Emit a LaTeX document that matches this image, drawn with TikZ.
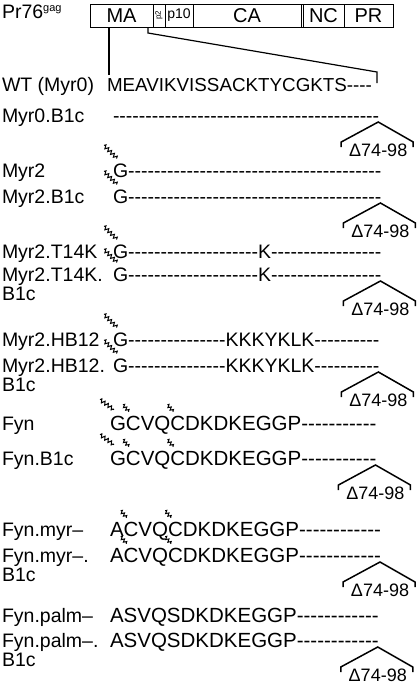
\documentclass[tikz,border=0pt]{standalone}
\usepackage{fontspec}
\newfontfamily\af{Liberation Sans}
\usetikzlibrary{calc,decorations.pathmorphing}
\ExplSyntaxOn
\cs_new:Npn \myhy #1 { \prg_replicate:nn {#1} { -\kern0pt } }
\ExplSyntaxOff
\newcommand\brkt[2]{%
  \coordinate (#2p) at ([xshift=-1pt]#1.base east);
  \draw[brk] ($(#2p)+(-37,25)$) -- ($(#2p)+(-37,20)$) -- (#2p) -- ($(#2p)+(35,20)$) -- ($(#2p)+(35,25)$);
  \node[dl] (#2d) at ($(#2p)+(0,28)$) {Δ74-98};}
\begin{document}
\begin{tikzpicture}[x=1pt,y=-1pt,
  every node/.style={inner sep=0pt,outer sep=0pt},
  t/.style={anchor=base west,font=\af\fontsize{19.5}{20}\selectfont},
  tw/.style={anchor=base west,font=\af\fontsize{18.8}{20}\selectfont},
  tf/.style={anchor=base west,font=\af\fontsize{20.5}{21}\selectfont},
  dl/.style={anchor=center,font=\af\fontsize{18}{18}\selectfont},
  seg/.style={draw,line width=0.9pt,anchor=north west,minimum height=23pt,font=\af\fontsize{20}{20}\selectfont},
  ln/.style={line width=1.2pt},
  brk/.style={line width=1.5pt},
  wig/.style={line width=1pt,decorate,decoration={zigzag,segment length=4pt,amplitude=1.8pt}},
  swig/.style={line width=1pt,decorate,decoration={zigzag,segment length=3.4pt,amplitude=1.5pt}}]
\useasboundingbox (0,0) rectangle (418,686);
% precursor bar
\node[t] (pr76) at (2,18) {Pr76\raisebox{7pt}{\fontsize{11}{11}\selectfont gag}};
\node[seg,minimum width=63pt] (ma) at (90,4) {MA};
\node[seg,minimum width=12pt] (p2) at (153,4) {\rotatebox{90}{\fontsize{8}{8}\selectfont p2}};
\node[seg,minimum width=28pt,font=\af\fontsize{14}{14}\selectfont] (p10) at (165,4) {p10};
\node[seg,minimum width=108pt] (ca) at (193,4) {CA};
\node[seg,minimum width=41pt] (nc) at (303,4) {NC};
\node[seg,minimum width=49pt] (pr) at (344,4) {PR};
\draw[line width=0.9pt] (ma.north west) rectangle (pr.south east);
\coordinate (wtl) at (109,75);
\coordinate (wtr) at (377,83);
\draw[ln] (ma.south west -| wtl) -- (wtl);
\draw[ln] ([xshift=-5pt]ma.south east) -- ++(0,6) -- (377,72) -- (wtr);
% WT
\node[t] (lwt) at (2,91) {WT (Myr0)};
\node[tw] (swt) at (107,91) {MEAVIKVISSACKTYCGKTS\myhy{4}};
% Myr0.B1c
\node[t] (l1) at (2,122) {Myr0.B1c};
\node[t] (d1) at (113,122) {\myhy{41}};
\brkt{d1}{b1}
% Myr2
\node[t] (l2) at (2,177) {Myr2};
\node[t] (g2) at (113,177) {G};
\node[t] (d2) at (g2.base east) {\myhy{39}};
\draw[wig] ($(g2.north west)+(-9,-18)$) -- ($(g2.north west)+(4,-5)$);
% Myr2.B1c
\node[t] (l3) at (2,203) {Myr2.B1c};
\node[t] (g3) at (113,203) {G};
\node[t] (d3) at (g3.base east) {\myhy{39}};
\draw[wig] ($(g3.north west)+(-9,-18)$) -- ($(g3.north west)+(4,-5)$);
\brkt{d3}{b3}
% Myr2.T14K
\node[t] (l4) at (2,258) {Myr2.T14K};
\node[t] (g4) at (113,258) {G};
\node[t] (d4a) at (g4.base east) {\myhy{20}};
\node[t] (k4) at (d4a.base east) {K};
\node[t] (d4b) at (k4.base east) {\myhy{17}};
\draw[wig] ($(g4.north west)+(-9,-18)$) -- ($(g4.north west)+(4,-5)$);
% Myr2.T14K.B1c
\node[t] (l5) at (2,281) {Myr2.T14K.};
\node[t] (l5b) at (2,300) {B1c};
\node[t] (g5) at (113,281) {G};
\node[t] (d5a) at (g5.base east) {\myhy{20}};
\node[t] (k5) at (d5a.base east) {K};
\node[t] (d5b) at (k5.base east) {\myhy{17}};
\draw[wig] ($(g5.north west)+(-9,-18)$) -- ($(g5.north west)+(4,-5)$);
\brkt{d5b}{b5}
% Myr2.HB12
\node[t] (l6) at (2,346) {Myr2.HB12};
\node[t] (g6) at (113,346) {G};
\node[t] (d6a) at (g6.base east) {\myhy{15}};
\node[t] (k6) at (d6a.base east) {KKKYKLK};
\node[t] (d6b) at (k6.base east) {\myhy{10}};
\draw[wig] ($(g6.north west)+(-9,-18)$) -- ($(g6.north west)+(4,-5)$);
% Myr2.HB12.B1c
\node[t] (l7) at (2,372) {Myr2.HB12.};
\node[t] (l7b) at (2,391) {B1c};
\node[t] (g7) at (113,372) {G};
\node[t] (d7a) at (g7.base east) {\myhy{15}};
\node[t] (k7) at (d7a.base east) {KKKYKLK};
\node[t] (d7b) at (k7.base east) {\myhy{10}};
\draw[wig] ($(g7.north west)+(-9,-18)$) -- ($(g7.north west)+(4,-5)$);
\brkt{d7b}{b7}
% Fyn
\node[t] (l8) at (2,430) {Fyn};
\node[tf] (f8g) at (110,430) {G};
\node[tf] (f8c) at (f8g.base east) {C};
\node[tf] (f8v) at (f8c.base east) {VQ};
\node[tf] (f8e) at (f8v.base east) {C};
\node[tf] (f8r) at (f8e.base east) {DKDKEGGP};
\node[tf] (d8) at (f8r.base east) {\myhy{11}};
\draw[wig] ($(f8g.north west)+(-10,-16)$) -- ($(f8g.north west)+(4,-6)$);
\draw[swig] ($(f8c.north west)+(-3,-11)$) -- ($(f8c.north west)+(3,-4)$);
\draw[swig] ($(f8e.north west)+(-3,-11)$) -- ($(f8e.north west)+(3,-4)$);
% Fyn.B1c
\node[t] (l9) at (2,465) {Fyn.B1c};
\node[tf] (f9g) at (110,465) {G};
\node[tf] (f9c) at (f9g.base east) {C};
\node[tf] (f9v) at (f9c.base east) {VQ};
\node[tf] (f9e) at (f9v.base east) {C};
\node[tf] (f9r) at (f9e.base east) {DKDKEGGP};
\node[tf] (d9) at (f9r.base east) {\myhy{11}};
\draw[wig] ($(f9g.north west)+(-10,-16)$) -- ($(f9g.north west)+(4,-6)$);
\draw[swig] ($(f9c.north west)+(-3,-11)$) -- ($(f9c.north west)+(3,-4)$);
\draw[swig] ($(f9e.north west)+(-3,-11)$) -- ($(f9e.north west)+(3,-4)$);
\brkt{d9}{b9}
% Fyn.myr-
\node[t] (l10) at (2,536) {Fyn.myr–};
\node[tf] (f10a) at (110,536) {A};
\node[tf] (f10c) at (f10a.base east) {C};
\node[tf] (f10v) at (f10c.base east) {VQ};
\node[tf] (f10e) at (f10v.base east) {C};
\node[tf] (f10r) at (f10e.base east) {DKDKEGGP};
\node[tf] (d10) at (f10r.base east) {\myhy{12}};
\draw[swig] ($(f10c.north west)+(-3,-11)$) -- ($(f10c.north west)+(3,-4)$);
\draw[swig] ($(f10e.north west)+(-3,-11)$) -- ($(f10e.north west)+(3,-4)$);
% Fyn.myr-.B1c
\node[t] (l11) at (2,562) {Fyn.myr–.};
\node[t] (l11b) at (2,581) {B1c};
\node[tf] (f11a) at (110,562) {A};
\node[tf] (f11c) at (f11a.base east) {C};
\node[tf] (f11v) at (f11c.base east) {VQ};
\node[tf] (f11e) at (f11v.base east) {C};
\node[tf] (f11r) at (f11e.base east) {DKDKEGGP};
\node[tf] (d11) at (f11r.base east) {\myhy{12}};
\draw[swig] ($(f11c.north west)+(-3,-11)$) -- ($(f11c.north west)+(3,-4)$);
\draw[swig] ($(f11e.north west)+(-3,-11)$) -- ($(f11e.north west)+(3,-4)$);
\brkt{d11}{b11}
% Fyn.palm-
\node[t] (l12) at (2,622) {Fyn.palm–};
\node[tf] (s12) at (110,622) {ASVQSDKDKEGGP\myhy{12}};
% Fyn.palm-.B1c
\node[t] (l13) at (2,647) {Fyn.palm–.};
\node[t] (l13b) at (2,666) {B1c};
\node[tf] (s13) at (110,647) {ASVQSDKDKEGGP\myhy{12}};
\brkt{s13}{b13}
\end{tikzpicture}
\end{document}
